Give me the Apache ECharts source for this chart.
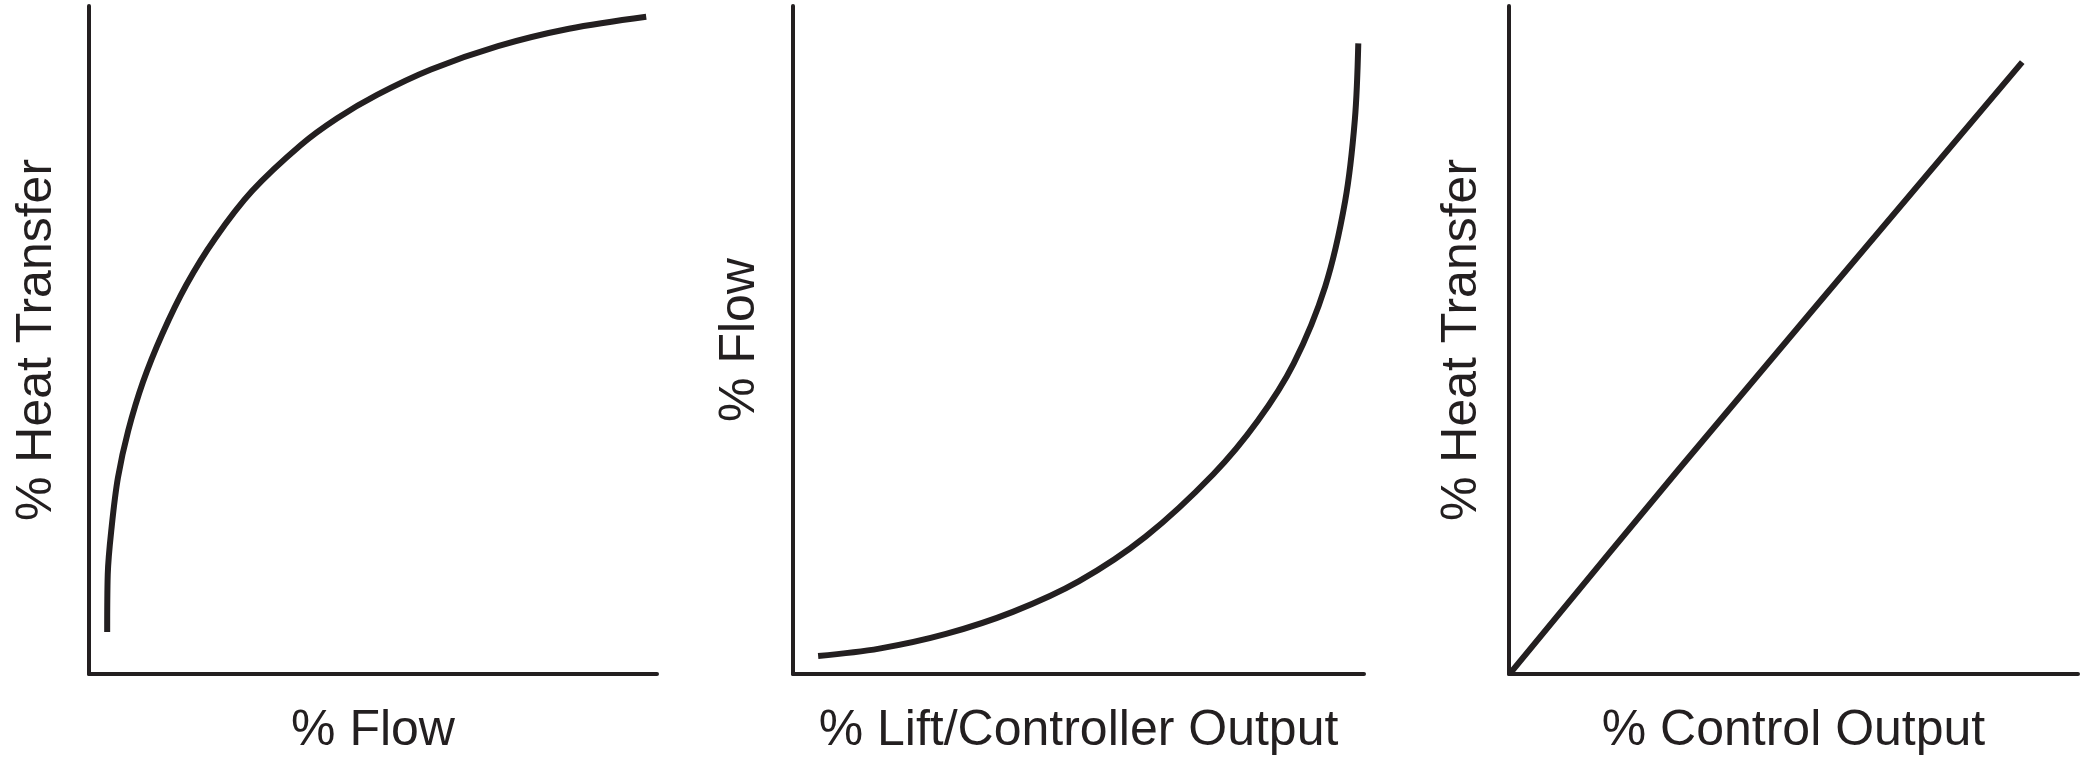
<!DOCTYPE html>
<html>
<head>
<meta charset="utf-8">
<script src="https://cdn.jsdelivr.net/npm/echarts@6/dist/echarts.min.js"></script>
<style>
html,body{margin:0;padding:0;background:#fff;}
#chart{width:2091px;height:761px;}
</style>
</head>
<body>
<div id="chart"></div>
<script>
// Panel 1: % Heat Transfer vs % Flow
const p1Flow = [3.2, 3.3, 4.0, 5.1, 6.9, 9.5, 12.9, 17.1, 22.2, 28.7, 37.3, 43.7, 50.7, 60.2, 72.0, 84.5, 98.1];
const p1Heat = [6.3, 14.9, 22.1, 29.4, 36.4, 43.7, 50.9, 58.2, 65.2, 72.3, 79.2, 83.2, 86.7, 90.5, 94.0, 96.6, 98.4];
// Panel 2: % Flow vs % Lift/Controller Output
const p2Lift = [4.4, 15.1, 26.8, 38.5, 50.1, 61.8, 73.6, 81.4, 87.7, 93.2, 96.7, 98.4, 99.0];
const p2Flow = [2.7, 3.8, 6.0, 9.3, 13.9, 20.6, 29.9, 37.9, 46.5, 58.0, 70.8, 83.0, 94.4];
// Panel 3: % Heat Transfer vs % Control Output
const p3Control = [0.3, 29.7, 90.2];
const p3Heat = [0.2, 30.5, 91.6];

const xNames = ['% Flow', '% Lift/Controller Output', '% Control Output'];
const yNames = ['% Heat Transfer', '% Flow', '% Heat Transfer'];

const INK = '#231f20';
const grids = [
  {left: 89, top: 6, width: 568, height: 678},
  {left: 793, top: 6, width: 571, height: 678},
  {left: 1509, top: 6, width: 569, height: 678}
];
const yGaps = [27, 28, 22];
const font = {fontFamily: '"Liberation Sans", Arial, Helvetica, sans-serif', fontSize: 50, color: INK};

function axisBase() {
  return {
    type: 'value', min: 0, max: 100,
    axisLine: {show: true, onZero: false, lineStyle: {color: INK, width: 4}},
    axisTick: {show: false}, axisLabel: {show: false}, splitLine: {show: false}
  };
}

const xAxis = xNames.map((n, i) => Object.assign(axisBase(), {
  gridIndex: i, name: n, nameLocation: 'middle', nameGap: 32, nameTextStyle: font
}));
const yAxis = yNames.map((n, i) => Object.assign(axisBase(), {
  gridIndex: i, name: n, nameLocation: 'middle', nameGap: yGaps[i], nameTextStyle: font
}));

function pairs(xs, ys) { return xs.map((x, i) => [x, ys[i]]); }
function lineSeries(i, data) {
  return {
    type: 'line', xAxisIndex: i, yAxisIndex: i, data: data,
    smooth: 0.34, showSymbol: false, symbol: 'none',
    lineStyle: {color: INK, width: 6, cap: 'butt', join: 'round'},
    animation: false, silent: true
  };
}

const chart = echarts.init(document.getElementById('chart'), null, {renderer: 'canvas'});
chart.setOption({
  animation: false,
  backgroundColor: '#ffffff',
  grid: grids,
  xAxis: xAxis,
  yAxis: yAxis,
  series: [
    lineSeries(0, pairs(p1Flow, p1Heat)),
    lineSeries(1, pairs(p2Lift, p2Flow)),
    lineSeries(2, pairs(p3Control, p3Heat))
  ]
});
</script>
</body>
</html>
